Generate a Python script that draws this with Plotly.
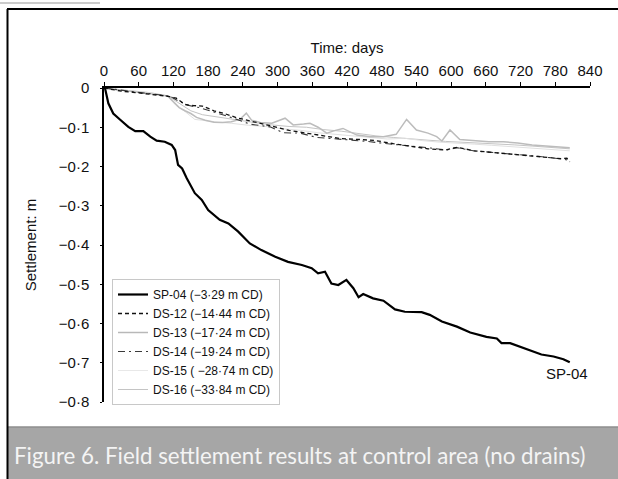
import plotly.graph_objects as go

# ---------------- data ----------------
sp04_days = [0, 2, 7.5, 16, 28, 42, 54, 68, 80, 91, 105, 117, 123, 128, 135, 143, 157, 169, 180,
             200, 215, 232, 252, 272, 296, 318, 342, 359, 370, 382, 393, 405, 419, 431, 440,
             448, 465, 483, 503, 520, 549, 563, 584, 610, 633, 661, 679, 687, 702, 719, 736,
             756, 777, 794, 805]
sp04_vals = [0, -0.002, -0.039, -0.065, -0.081, -0.099, -0.110, -0.110, -0.124, -0.134, -0.137,
             -0.145, -0.158, -0.196, -0.205, -0.230, -0.268, -0.285, -0.311, -0.336, -0.345,
             -0.366, -0.396, -0.413, -0.430, -0.443, -0.451, -0.459, -0.472, -0.468, -0.498,
             -0.502, -0.489, -0.510, -0.533, -0.525, -0.536, -0.542, -0.564, -0.570, -0.571,
             -0.578, -0.595, -0.608, -0.623, -0.634, -0.638, -0.650, -0.650, -0.659, -0.668,
             -0.679, -0.684, -0.691, -0.699]

ds12_days = [0, 15, 30, 50, 70, 90, 110, 125, 140, 155, 170, 190, 210, 230, 260, 290, 320, 350,
             380, 410, 440, 470, 500, 530, 560, 590, 610, 640, 670, 700, 730, 760, 790, 800, 805]
ds12_vals = [0, -0.004, -0.008, -0.011, -0.014, -0.017, -0.021, -0.026, -0.042, -0.045, -0.046,
             -0.058, -0.066, -0.076, -0.086, -0.097, -0.108, -0.115, -0.123, -0.129, -0.131,
             -0.134, -0.142, -0.149, -0.155, -0.158, -0.151, -0.160, -0.164, -0.167, -0.171,
             -0.176, -0.180, -0.179, -0.188]

ds13_days = [0, 30, 60, 90, 110, 120, 130, 140, 150, 160, 175, 190, 205, 220, 235, 246, 255, 270,
             290, 313, 327, 345, 356, 370, 385, 400, 413, 437, 460, 483, 505, 523, 540, 560, 575,
             584, 598, 615, 640, 665, 690, 715, 740, 765, 790, 805]
ds13_vals = [0, -0.005, -0.010, -0.015, -0.020, -0.035, -0.050, -0.058, -0.065, -0.075, -0.082,
             -0.087, -0.088, -0.086, -0.080, -0.064, -0.082, -0.088, -0.090, -0.077, -0.094,
             -0.092, -0.090, -0.100, -0.115, -0.108, -0.103, -0.120, -0.124, -0.124, -0.118,
             -0.080, -0.107, -0.115, -0.124, -0.135, -0.107, -0.131, -0.134, -0.137, -0.137,
             -0.140, -0.145, -0.148, -0.150, -0.152]

ds14_days = [0, 20, 45, 70, 95, 115, 130, 145, 165, 185, 205, 230, 252, 287, 310, 339, 368, 395,
             425, 455, 483, 512, 540, 565, 592, 610, 638, 665, 690, 720, 750, 780, 805]
ds14_vals = [0, -0.004, -0.009, -0.013, -0.017, -0.022, -0.034, -0.044, -0.050, -0.060, -0.068,
             -0.080, -0.092, -0.099, -0.114, -0.115, -0.126, -0.129, -0.132, -0.136, -0.141,
             -0.145, -0.149, -0.153, -0.158, -0.152, -0.160, -0.163, -0.166, -0.170, -0.174,
             -0.179, -0.184]

ds15_days = [0, 40, 80, 110, 125, 140, 157, 180, 197, 220, 250, 280, 310, 340, 370, 400, 430,
             460, 490, 520, 550, 580, 610, 640, 670, 700, 730, 760, 790, 805]
ds15_vals = [0, -0.006, -0.012, -0.022, -0.045, -0.060, -0.080, -0.084, -0.086, -0.090, -0.095,
             -0.098, -0.104, -0.108, -0.114, -0.118, -0.122, -0.126, -0.130, -0.128, -0.134,
             -0.138, -0.140, -0.143, -0.146, -0.149, -0.152, -0.155, -0.158, -0.160]

ds16_days = [0, 40, 80, 110, 130, 150, 170, 200, 230, 260, 290, 320, 350, 380, 410, 440, 470,
             500, 530, 560, 590, 620, 650, 680, 710, 740, 770, 805]
ds16_vals = [0, -0.006, -0.012, -0.020, -0.040, -0.058, -0.068, -0.075, -0.082, -0.088, -0.094,
             -0.098, -0.100, -0.106, -0.110, -0.116, -0.122, -0.126, -0.130, -0.133, -0.136,
             -0.138, -0.140, -0.142, -0.145, -0.148, -0.152, -0.155]

series_names = ["SP-04 (−3·29 m CD)", "DS-12 (−14·44 m CD)", "DS-13 (−17·24 m CD)",
                "DS-14 (−19·24 m CD)", "DS-15 ( −28·74 m CD)", "DS-16 (−33·84 m CD)"]

x_ticks = list(range(0, 841, 60))
y_tickvals = [0, -0.1, -0.2, -0.3, -0.4, -0.5, -0.6, -0.7, -0.8]
y_ticktext = ["0", "−0·1", "−0·2", "−0·3", "−0·4", "−0·5", "−0·6", "−0·7", "−0·8"]

# ---------------- figure ----------------
FONT = "Liberation Sans, Arial, sans-serif"
TICK_SIZE = 15
fig = go.Figure()

fig.add_trace(go.Scatter(x=ds16_days, y=ds16_vals, mode="lines", name=series_names[5],
                         line=dict(color="#c4c4c4", width=1), showlegend=False))
fig.add_trace(go.Scatter(x=ds15_days, y=ds15_vals, mode="lines", name=series_names[4],
                         line=dict(color="#e0e0e0", width=1), showlegend=False))
fig.add_trace(go.Scatter(x=ds13_days, y=ds13_vals, mode="lines", name=series_names[2],
                         line=dict(color="#bcbcbc", width=1.5), showlegend=False))
fig.add_trace(go.Scatter(x=ds14_days, y=ds14_vals, mode="lines", name=series_names[3],
                         line=dict(color="#3a3a3a", width=1.1, dash="7px,4px,2px,4px"),
                         showlegend=False))
fig.add_trace(go.Scatter(x=ds12_days, y=ds12_vals, mode="lines", name=series_names[1],
                         line=dict(color="#111111", width=1.3, dash="4px,3px"), showlegend=False))
fig.add_trace(go.Scatter(x=sp04_days, y=sp04_vals, mode="lines", name=series_names[0],
                         line=dict(color="#000000", width=2.2), showlegend=False))

# legend entries in the original order
legend_styles = [
    dict(color="#000000", width=2.2),
    dict(color="#111111", width=1.3, dash="4px,3px"),
    dict(color="#b8b8b8", width=1.5),
    dict(color="#3a3a3a", width=1.1, dash="7px,4px,2px,4px"),
    dict(color="#e8e8e8", width=1),
    dict(color="#c4c4c4", width=1),
]
for name, st in zip(series_names, legend_styles):
    fig.add_trace(go.Scatter(x=[None], y=[None], mode="lines", name=name, line=st,
                             showlegend=True))

# pixel -> paper helpers (plot area 104..590 x 88..402)
L, R, T, B = 104, 590, 88, 402
def px(xp):
    return (xp - L) / (R - L)
def py(yp):
    return (B - yp) / (B - T)

fig.update_layout(
    width=618, height=479, autosize=False,
    margin=dict(l=L, r=618 - R, t=T, b=479 - B, pad=0),
    paper_bgcolor="white", plot_bgcolor="white",
    font=dict(family=FONT, size=TICK_SIZE, color="#111111"),
    xaxis=dict(side="top", range=[0, 840], tickvals=x_ticks, showgrid=False, zeroline=False,
               showline=True, linecolor="black", linewidth=1.5, ticks="outside", ticklen=4,
               tickcolor="black", tickfont=dict(size=TICK_SIZE),
               title=dict(text="Time: days", font=dict(size=TICK_SIZE), standoff=5)),
    yaxis=dict(range=[-0.8, 0], tickvals=y_tickvals, ticktext=y_ticktext, showgrid=False,
               zeroline=False, showline=True, linecolor="black", linewidth=1.5,
               ticks="outside", ticklen=2, tickcolor="black", tickfont=dict(size=TICK_SIZE),
               ticklabelstandoff=8,
               title=dict(text="Settlement: m", font=dict(size=TICK_SIZE), standoff=19)),
    legend=dict(x=px(112), y=py(279), xanchor="left", yanchor="top",
                bgcolor="white", bordercolor="#c8c8c8", borderwidth=1,
                font=dict(size=12, family=FONT), tracegroupgap=0, itemwidth=30),
    showlegend=True,
)

fig.add_annotation(x=800, y=-0.727, xref="x", yref="y", text="SP-04", showarrow=False,
                   font=dict(size=15, family=FONT, color="#111111"))

# caption band and frame
fig.add_shape(type="rect", xref="paper", yref="paper", x0=px(7), x1=px(620), y0=py(481),
              y1=py(427), fillcolor="#a6a6a6", line=dict(width=0), layer="below")
fig.add_shape(type="line", xref="paper", yref="paper", x0=px(7), x1=px(620), y0=py(427),
              y1=py(427), line=dict(color="#8e8e8e", width=1.5))
fig.add_shape(type="line", xref="paper", yref="paper", x0=px(7.5), x1=px(7.5), y0=py(481),
              y1=py(9), line=dict(color="black", width=2))
fig.add_shape(type="line", xref="paper", yref="paper", x0=px(7), x1=px(620), y0=py(9),
              y1=py(9), line=dict(color="black", width=2))
fig.add_shape(type="line", xref="paper", yref="paper", x0=px(0), x1=px(100), y0=py(3),
              y1=py(3), line=dict(color="#bbbbbb", width=1.5))
fig.add_annotation(x=px(12), y=py(455), xref="paper", yref="paper", xanchor="left",
                   yanchor="middle", showarrow=False,
                   text="Figure 6. Field settlement results at control area (no drains)",
                   font=dict(size=22.3, family="Lato, Open Sans, sans-serif", color="#f4f4f4"))

fig.write_html("out.html")
